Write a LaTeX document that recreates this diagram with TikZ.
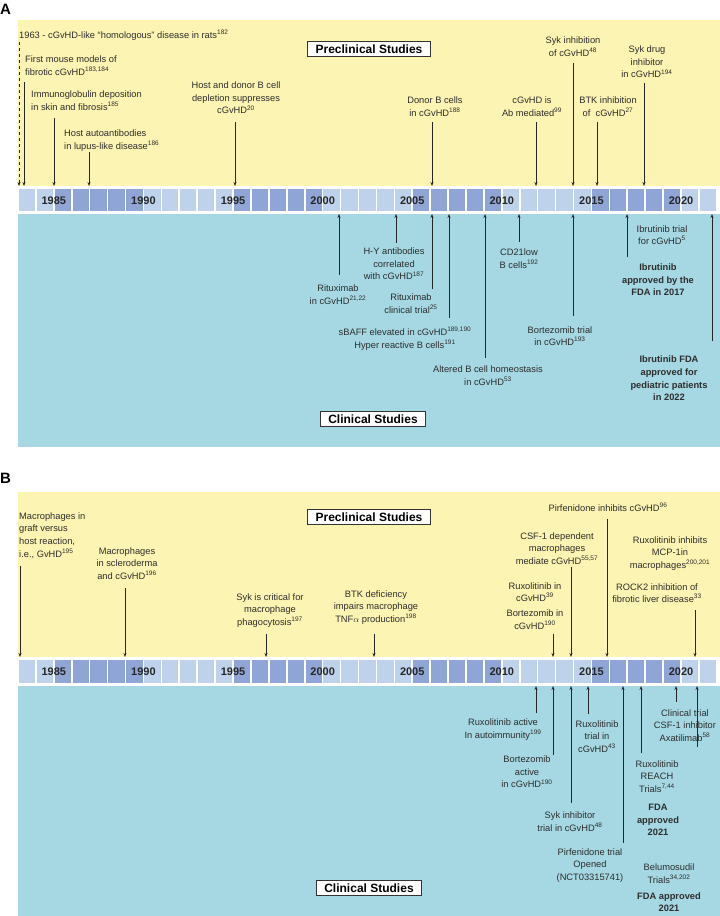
\documentclass[tikz,border=0pt]{standalone}
\usepackage{fontspec}
\setmainfont{Liberation Sans}
\usetikzlibrary{arrows.meta}
\definecolor{yel}{RGB}{252,244,178}
\definecolor{blu}{RGB}{165,216,226}
\definecolor{celllight}{RGB}{190,211,235}
\definecolor{celldark}{RGB}{143,165,214}
\definecolor{txt}{RGB}{45,45,45}
\newcommand\sph[1]{\textsuperscript{#1}}
\newcommand\evarr[4]{\coordinate (#1s) at (#2,#3); \coordinate (#1e) at (#2,#4); \draw[arr] (#1s) -- (#1e);}
\begin{document}
\begin{tikzpicture}[x=1pt,y=-1pt,
  lab/.style={align=center,text=txt,font=\fontsize{9.3}{12.6}\selectfont,inner sep=0pt},
  labl/.style={lab,align=left,anchor=west},
  blab/.style={lab,font=\fontsize{9.3}{12.6}\selectfont\bfseries},
  box/.style={draw=black!80,line width=0.8pt,fill=white,font=\fontsize{12}{14}\selectfont\bfseries,inner xsep=8pt,inner ysep=3pt},
  year/.style={font=\fontsize{11}{13}\selectfont\bfseries,text=black!85,inner sep=0pt},
  arr/.style={-{Stealth[length=4pt,width=3pt]},line width=0.7pt,black!85},
  panel/.style={font=\fontsize{15}{17}\selectfont\bfseries,inner sep=0pt,anchor=west}]
\useasboundingbox (0,0) rectangle (720,916);
\fill[white] (0,0) rectangle (720,916);
% Backgrounds
\fill[yel] (18,20) rectangle (720,186);
\fill[blu] (18,214) rectangle (720,447);
\fill[yel] (18,492) rectangle (720,657);
\fill[blu] (18,686) rectangle (720,916);
% Timeline cells
\foreach \i in {0,...,38}{
  \pgfmathsetmacro\xl{18+17.92*\i}
  \pgfmathtruncatemacro\dk{(\i>=2)*(mod(\i+8,10)<5)}
  \ifnum\dk=1 \def\cc{celldark}\else\def\cc{celllight}\fi
  \fill[\cc] (\xl+0.8,189) rectangle ++(16.3,22);
  \fill[\cc] (\xl+0.8,660) rectangle ++(16.3,23);
}
\foreach \Y in {1985,1990,...,2020}{
  \pgfmathsetmacro\xy{18+17.92*(\Y-1983)}
  \node[year] (yA\Y) at (\xy,200.5) {\Y};
  \node[year] (yB\Y) at (\xy,671.5) {\Y};
}
% Panel labels
\node[panel] (pA) at (0,9) {A};
\node[panel] (pB) at (0,478) {B};
% ---------- Panel A preclinical
\node[box] (preA) at (369,49) {Preclinical Studies};
\node[labl] (a1) at (19,35) {1963 - cGvHD-like “homologous” disease in rats\sph{182}};
\coordinate (a1s) at (19,42); \coordinate (a1e) at (19,186);
\draw[arr,dashed] (a1s) -- (a1e);
\node[labl] (a2) at (25,65.5) {First mouse models of\\fibrotic cGvHD\sph{183,184}};
\evarr{a2}{24}{82}{186}
\node[labl] (a3) at (31,100.5) {Immunoglobulin deposition\\in skin and fibrosis\sph{185}};
\evarr{a3}{54}{118}{186}
\node[labl] (a4) at (64,140.5) {Host autoantibodies\\in lupus-like disease\sph{186}};
\evarr{a4}{89}{152}{186}
\node[lab] (a5) at (236,98) {Host and donor B cell\\depletion suppresses\\cGvHD\sph{20}};
\evarr{a5}{235}{122}{186}
\node[lab] (a6) at (435,106.5) {Donor B cells\\in cGvHD\sph{188}};
\evarr{a6}{432}{122}{186}
\node[lab] (a7) at (532,106.5) {cGvHD is\\Ab mediated\sph{99}};
\evarr{a7}{536}{122}{186}
\node[lab] (a8) at (573,46.5) {Syk inhibition\\of cGvHD\sph{48}};
\evarr{a8}{573}{63}{186}
\node[lab] (a9) at (608,106.5) {BTK inhibition\\of~~cGvHD\sph{27}};
\evarr{a9}{597}{122}{186}
\node[lab] (a10) at (647,62) {Syk drug\\inhibitor\\in cGvHD\sph{194}};
\evarr{a10}{644}{83}{186}
% ---------- Panel A clinical
\node[box] (cliA) at (373,419) {Clinical Studies};
\node[lab] (c1) at (338,294.5) {Rituximab\\in cGvHD\sph{21,22}};
\evarr{c1}{339}{275}{214}
\node[lab] (c2) at (394,264) {H-Y antibodies\\correlated\\with cGvHD\sph{187}};
\evarr{c2}{396}{243}{214}
\node[lab] (c3) at (411,303.5) {Rituximab\\clinical trial\sph{25}};
\evarr{c3}{432}{289}{214}
\node[lab] (c4) at (405,338.5) {sBAFF elevated in cGvHD\sph{189,190}\\Hyper reactive B cells\sph{191}};
\evarr{c4}{449}{318}{214}
\node[lab] (c5) at (488,375.5) {Altered B cell homeostasis\\in cGvHD\sph{53}};
\evarr{c5}{485}{358}{214}
\node[lab] (c6) at (519,258.5) {CD21low\\B cells\sph{192}};
\evarr{c6}{519}{242}{214}
\node[lab] (c7) at (560,336) {Bortezomib trial\\in cGvHD\sph{193}};
\evarr{c7}{573}{316}{214}
\node[lab] (c8) at (662,235) {Ibrutinib trial\\for cGvHD\sph{5}};
\evarr{c8}{627}{257}{214}
\node[blab] (c9) at (658,280) {Ibrutinib\\approved by the\\FDA in 2017};
\node[blab] (c10) at (669,378.5) {Ibrutinib FDA\\approved for\\pediatric patients\\in 2022};
\evarr{c10}{712}{341}{214}
% ---------- Panel B preclinical
\node[box] (preB) at (369,517) {Preclinical Studies};
\node[labl] (b1) at (19,535.5) {Macrophages in\\graft versus\\host reaction,\\i.e., GvHD\sph{195}};
\evarr{b1}{20}{566}{657}
\node[lab] (b2) at (127,563.5) {Macrophages\\in scleroderma\\and cGvHD\sph{196}};
\evarr{b2}{125}{588}{657}
\node[lab] (b3) at (270,610.5) {Syk is critical for\\macrophage\\phagocytosis\sph{197}};
\evarr{b3}{266}{634}{657}
\node[lab] (b4) at (376,607.5) {BTK deficiency\\impairs macrophage\\TNF$\alpha$ production\sph{198}};
\evarr{b4}{374}{634}{657}
\node[lab] (b5) at (608,507) {Pirfenidone inhibits cGvHD\sph{96}};
\evarr{b5}{607}{519}{657}
\node[lab] (b6) at (557,548.5) {CSF-1 dependent\\macrophages\\mediate cGvHD\sph{55,57}};
\evarr{b6}{571}{567}{657}
\node[lab] (b7) at (535,592) {Ruxolitinib in\\cGvHD\sph{39}};
\node[lab] (b8) at (535,619.5) {Bortezomib in\\cGvHD\sph{190}};
\evarr{b8}{553}{634}{657}
\node[lab] (b9) at (670,553.5) {Ruxolitinib inhibits\\MCP-1in\\macrophages\sph{200,201}};
\node[lab] (b10) at (657,593) {ROCK2 inhibition of\\fibrotic liver disease\sph{33}};
\evarr{b10}{695}{610}{657}
% ---------- Panel B clinical
\node[box] (cliB) at (369,888) {Clinical Studies};
\node[lab] (d1) at (503,729.5) {Ruxolitinib active\\In autoimmunity\sph{199}};
\evarr{d1}{536}{713}{686}
\node[lab] (d2) at (527,772) {Bortezomib\\active\\in cGvHD\sph{190}};
\evarr{d2}{553}{755}{686}
\node[lab] (d3) at (570,821.5) {Syk inhibitor\\trial in cGvHD\sph{48}};
\evarr{d3}{571}{803}{686}
\node[lab] (d4) at (597,736.5) {Ruxolitinib\\trial in\\cGvHD\sph{43}};
\evarr{d4}{588}{714}{686}
\node[lab] (d5) at (590,865.5) {Pirfenidone trial\\Opened\\(NCT03315741)};
\evarr{d5}{623}{843}{686}
\node[lab] (d6) at (657,776.5) {Ruxolitinib\\REACH\\Trials\sph{7,44}};
\evarr{d6}{641}{753}{686}
\node[blab] (d7) at (658,820) {FDA\\approved\\2021};
\node[lab] (d8) at (685,725.5) {Clinical trial\\CSF-1 inhibitor\\Axatilimab\sph{58}};
\evarr{d8}{676}{702}{686}
\node[lab] (d9) at (669,873.5) {Belumosudil\\Trials\sph{34,202}};
\evarr{d9}{697}{747}{686}
\node[blab] (d10) at (669,902) {FDA approved\\2021};
\end{tikzpicture}
\end{document}
